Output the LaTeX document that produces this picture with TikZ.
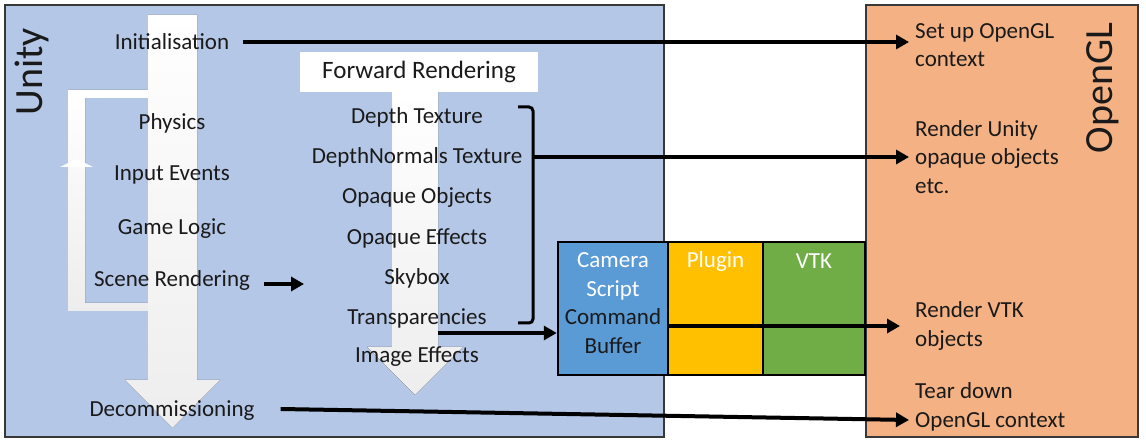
\documentclass[tikz,border=0pt]{standalone}
\usepackage{fontspec}
\setmainfont{Carlito}
\usetikzlibrary{arrows.meta}
\definecolor{unityfill}{HTML}{B4C7E7}
\definecolor{glfill}{HTML}{F4B183}
\definecolor{camfill}{HTML}{5B9BD5}
\definecolor{plugfill}{HTML}{FFC000}
\definecolor{vtkfill}{HTML}{70AD47}
\definecolor{ink}{HTML}{1A1A1A}
\begin{document}
\begin{tikzpicture}[>={Triangle[length=13bp,width=14bp]},line join=miter,
  txt/.style={text=ink,inner sep=2bp,font=\fontsize{23bp}{28.5bp}\selectfont},
  gltxt/.style={txt,anchor=west,align=left,inner xsep=6bp},
  side/.style={text=ink,inner sep=0bp,rotate=90,font=\fontsize{40bp}{48bp}\selectfont},
  panel/.style={draw=black!78,line width=2bp},
  unitbox/.style={draw=black,line width=2.5bp,minimum width=#1,minimum height=133bp,inner sep=0bp},
  flow/.style={top color=white,bottom color=black!7,draw=none},
  conn/.style={black,line width=4bp,->},
]
\useasboundingbox (0bp,0bp) rectangle (1146bp,445bp);
%%
\draw [panel,fill=unityfill] (5bp,8bp) rectangle (664bp,440bp);
\draw [panel,fill=glfill] (866bp,8bp) rectangle (1138bp,440bp);
\node (unity) at (32bp,373bp) [side] {Unity};
\node (opengl) at (1103bp,357bp) [side] {OpenGL};
%
\fill [flow] (148bp,355bp) -- (68bp,355bp) -- (68bp,134bp) -- (148bp,134bp) -- (148bp,142bp) -- (85bp,142bp) -- (85bp,347bp) -- (148bp,347bp) -- cycle;
\fill [white] (60bp,278bp) -- (93bp,278bp) -- (76.5bp,286bp) -- cycle;
\fill [flow] (148bp,430bp) -- (197bp,430bp) -- (197bp,65bp) -- (220bp,65bp) -- (172.5bp,17bp) -- (125bp,65bp) -- (148bp,65bp) -- cycle;
\fill [flow] (392bp,353bp) -- (438bp,353bp) -- (438bp,98bp) -- (463bp,98bp) -- (415bp,50bp) -- (367bp,98bp) -- (392bp,98bp) -- cycle;
\node (fwd) at (419bp,373bp) [txt,fill=white,minimum width=238bp,minimum height=40bp,font=\fontsize{25bp}{30bp}\selectfont] {Forward Rendering};
%
\node (init) at (172bp,403bp) [txt] {Initialisation};
  \node (physics) at (172bp,322bp) [txt] {Physics};
  \node (input) at (172bp,270bp) [txt] {Input Events};
  \node (logic) at (172bp,216bp) [txt] {Game Logic};
  \node (scene) at (172bp,165bp) [txt] {Scene Rendering};
  \node (decom) at (172bp,34bp) [txt] {Decommissioning};
%
\node (depth) at (417bp,328bp) [txt] {Depth Texture};
  \node (normals) at (417bp,288bp) [txt] {DepthNormals Texture};
  \node (opaque) at (417bp,248bp) [txt] {Opaque Objects};
  \node (opeffects) at (417bp,207bp) [txt] {Opaque Effects};
  \node (skybox) at (417bp,167bp) [txt] {Skybox};
  \node (transp) at (417bp,127bp) [txt] {Transparencies};
  \node (imgeffects) at (417bp,88bp) [txt] {Image Effects};
%
\node (cambox) at (613bp,136.5bp) [unitbox=110bp,fill=camfill] {};
  \node (plugbox) at (715.5bp,136.5bp) [unitbox=95bp,fill=plugfill] {};
  \node (vtkbox) at (814bp,136.5bp) [unitbox=102bp,fill=vtkfill] {};
  \node (camtxt) at (613bp,142bp) [txt,align=center] {\textcolor{white}{Camera}\\\textcolor{white}{Script}\\Command\\Buffer};
  \node (plugtxt) at (715.5bp,184bp) [txt,text=white] {Plugin};
  \node (vtktxt) at (814bp,184bp) [txt,text=white] {VTK};
%
\node (setup) at (909bp,400bp) [gltxt] {Set up OpenGL\\context};
  \node (render) at (909bp,288bp) [gltxt] {Render Unity\\opaque objects\\etc.};
  \node (glvtk) at (909bp,119bp) [gltxt] {Render VTK\\objects};
  \node (teardown) at (909bp,38bp) [gltxt] {Tear down\\OpenGL context};
%
\draw [black,line width=3bp,rounded corners=4bp] (518bp,338bp) -- (533bp,338bp) -- (533bp,122bp) -- (518bp,122bp);
\coordinate (brace) at (533bp,288bp);
\coordinate (transpout) at (438bp,112bp);
\coordinate (fwdin) at (304bp,161bp);
%
\draw [conn] ([xshift=12bp]init.east) -- (init -| setup.west);
\draw [conn] (brace) -- (brace -| render.west);
\draw [conn] ([xshift=12bp]scene.east |- fwdin) -- (fwdin);
\draw [conn] (transpout) -- (transpout -| cambox.west);
\draw [conn] (cambox.east |- glvtk.west) -- ([xshift=-9bp]glvtk.west);
\draw [conn] ([xshift=24bp,yshift=2bp]decom.east) -- ([yshift=-13bp]teardown.west);
%
\end{tikzpicture}
\end{document}
